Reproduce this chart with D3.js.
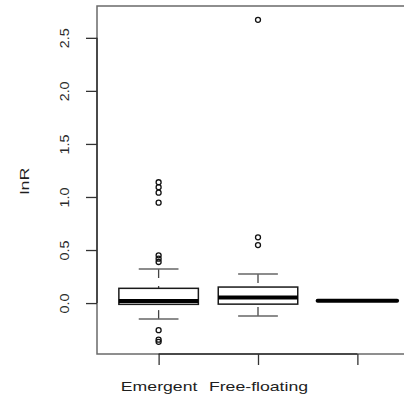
<!DOCTYPE html>
<html>
<head>
<meta charset="utf-8">
<script src="https://cdn.jsdelivr.net/npm/d3@7"></script>
<style>
  body { margin: 0; background: #fff; }
  svg { display: block; }
</style>
</head>
<body>
<svg width="404" height="397"></svg>
<script>
// группы и пятичисловые сводки
const categories = ["Emergent", "Free-floating", "Submerged"];
const tickLabels = ["Emergent", "Free-floating", ""];
const lowWhisker = [-0.151, -0.123, 0.022];
const q1 = [-0.012, -0.010, 0.022];
const median = [0.019, 0.052, 0.022];
const q3 = [0.139, 0.151, 0.022];
const highWhisker = [0.320, 0.274, 0.022];
const outliers = [
    [1.139, 1.092, 1.041, 0.946, 0.450, 0.418, 0.387, -0.255, -0.345, -0.365],
    [2.67, 0.62, 0.547],
    []
];
const yTicks = [0, 0.5, 1, 1.5, 2, 2.5];

const svg = d3.select("svg");
const font = "'Liberation Sans', Arial, sans-serif";

const plot = { left: 97, right: 419, top: 6, bottom: 354 };

const scX = d3.scaleLinear()
    .domain([0.38, categories.length + 0.62])
    .range([plot.left, plot.right]);

const scY = d3.scaleLinear()
    .domain([-0.48, 2.8])
    .range([plot.bottom, plot.top]);

const boxW = (scX(2) - scX(1)) * 0.8;
const capW = boxW / 2;

// рамка
svg.append("rect")
    .attr("x", plot.left)
    .attr("y", plot.top)
    .attr("width", plot.right - plot.left)
    .attr("height", plot.bottom - plot.top)
    .attr("fill", "none")
    .attr("stroke", "#6a6a6a")
    .attr("stroke-width", 1.5);

// ось Y
const axY = svg.append("g")
    .attr("transform", `translate(${plot.left},0)`)
    .call(d3.axisLeft(scY).tickValues(yTicks).tickFormat(d3.format(".1f")).tickSize(11).tickSizeOuter(0));
axY.select(".domain").remove();
axY.selectAll("line").attr("stroke", "#333").attr("stroke-width", 1.3);
axY.selectAll("text")
    .attr("x", 0).attr("y", 0).attr("dy", 0)
    .attr("text-anchor", "middle")
    .attr("transform", "translate(-28,0) rotate(-90) scale(1.15,1)")
    .style("font-family", font)
    .style("font-size", "12.5px")
    .attr("fill", "#2a2a2a");
axY.append("line")
    .attr("y1", scY(yTicks[0]))
    .attr("y2", scY(yTicks[yTicks.length - 1]))
    .attr("stroke", "#333")
    .attr("stroke-width", 1.5);

// ось X
const idx = categories.map((d, i) => i + 1);
const axX = svg.append("g")
    .attr("transform", `translate(0,${plot.bottom})`)
    .call(d3.axisBottom(scX).tickValues(idx).tickFormat(d => tickLabels[d - 1]).tickSize(11).tickSizeOuter(0));
axX.select(".domain").remove();
axX.selectAll("line").attr("stroke", "#333").attr("stroke-width", 1.3);
axX.selectAll("text")
    .attr("x", 0).attr("y", 0).attr("dy", 0)
    .attr("text-anchor", "middle")
    .attr("transform", "translate(0,37) scale(1.36,1)")
    .style("font-family", font)
    .style("font-size", "13px")
    .attr("fill", "#1e1e1e");
axX.append("line")
    .attr("x1", scX(idx[0]))
    .attr("x2", scX(idx[idx.length - 1]))
    .attr("stroke", "#333")
    .attr("stroke-width", 1.5);

// подпись оси Y
svg.append("text")
    .attr("transform", "translate(29,181) rotate(-90) scale(1.38,1)")
    .attr("text-anchor", "middle")
    .style("font-family", font)
    .style("font-size", "13px")
    .attr("fill", "#1e1e1e")
    .text("lnR");

// ящики
const boxes = svg.append("g");
categories.forEach((c, i) => {
    const cx = scX(i + 1);
    const g = boxes.append("g");

    // усы
    [[highWhisker[i], q3[i]], [lowWhisker[i], q1[i]]].forEach(([w, q]) => {
        if (w === q) return;
        g.append("line")
            .attr("x1", cx).attr("x2", cx)
            .attr("y1", scY(w)).attr("y2", scY(q))
            .attr("stroke", "#444")
            .attr("stroke-width", 1.3)
            .attr("stroke-dasharray", "9,8");
        g.append("line")
            .attr("x1", cx - capW / 2).attr("x2", cx + capW / 2)
            .attr("y1", scY(w)).attr("y2", scY(w))
            .attr("stroke", "#666")
            .attr("stroke-width", 1.5);
    });

    g.append("rect")
        .attr("x", cx - boxW / 2)
        .attr("y", scY(q3[i]))
        .attr("width", boxW)
        .attr("height", scY(q1[i]) - scY(q3[i]))
        .attr("fill", "#fff")
        .attr("stroke", "#1a1a1a")
        .attr("stroke-width", 1.5);

    g.append("line")
        .attr("x1", cx - boxW / 2).attr("x2", cx + boxW / 2)
        .attr("y1", scY(median[i])).attr("y2", scY(median[i]))
        .attr("stroke", "#000")
        .attr("stroke-width", 4)
        .attr("stroke-linecap", q1[i] === q3[i] ? "round" : "butt");

    g.selectAll("circle")
        .data(outliers[i]).enter()
        .append("circle")
        .attr("cx", cx)
        .attr("cy", d => scY(d))
        .attr("r", 2.5)
        .attr("fill", "none")
        .attr("stroke", "#111")
        .attr("stroke-width", 1.3);
});
</script>
</body>
</html>
